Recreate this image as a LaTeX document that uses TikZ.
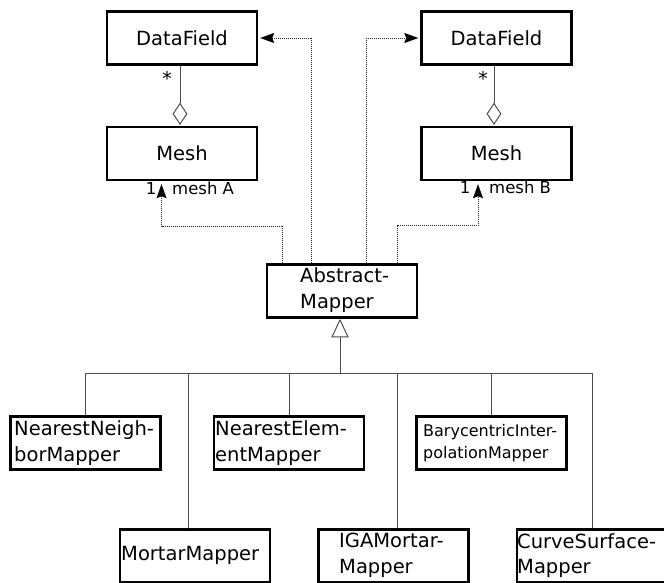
\documentclass[tikz,border=0pt]{standalone}
\usepackage{fontspec}
\setmainfont{DejaVu Sans}
\usetikzlibrary{arrows.meta,calc,shapes.geometric}

\begin{document}
\begin{tikzpicture}[x=1pt,y=-1pt,
  box/.style={draw=black,line width=2.4pt,fill=white,minimum width=150pt,
    minimum height=53pt,inner sep=0pt,font=\fontsize{19.5}{25.5}\selectfont},
  txt/.style={anchor=west,inner sep=0pt,align=left,
    font=\fontsize{19.5}{25.5}\selectfont},
  stxt/.style={anchor=west,inner sep=0pt,align=left,
    font=\fontsize{16}{22}\selectfont},
  rtxt/.style={anchor=west,inner sep=0pt,font=\fontsize{16.5}{18}\selectfont},
  link/.style={draw=black!70,line width=1pt},
  dep/.style={draw=black!85,line width=1pt,dash pattern=on 1pt off 1pt},
  tip/.style={-{Stealth[length=14pt,width=10pt,inset=2pt,color=black]}},
  agg/.style={diamond,draw=black!70,line width=1pt,fill=white,inner sep=0pt,
    minimum width=14pt,minimum height=21pt},
]
\useasboundingbox (0,0) rectangle (664,582);

% data fields and meshes of the two sides
\node[box] (dfA) at (182,38) {DataField};
\node[box] (meshA) at (182,153.5) {Mesh};
\node[box] (dfB) at (496.5,38) {DataField};
\node[box] (meshB) at (496.5,153.5) {Mesh};

% aggregation: a data field holds many meshes
\node[agg,anchor=south] (aggA) at ($(meshA.north)+(-2,-1)$) {};
\node[agg,anchor=south] (aggB) at ($(meshB.north)+(-2.5,-1)$) {};
\draw[link] (aggA.north) -- (aggA.north |- dfA.south);
\draw[link] (aggB.north) -- (aggB.north |- dfB.south);
\node[inner sep=0pt,font=\fontsize{19}{19}\selectfont] (starA) at (167,78) {*};
\node[inner sep=0pt,font=\fontsize{19}{19}\selectfont] (starB) at (483,78) {*};

% abstract base class
\node[box] (am) at (342,291) {};
\node[txt] (amt) at (300,290) {Abstract-\\Mapper};

% concrete mappers
\node[box] (nn) at (85.5,443) {};
\node[txt] (nnt) at (14,443) {NearestNeigh-\\borMapper};
\node[box] (ne) at (289,443) {};
\node[txt] (net) at (215,443) {NearestElem-\\entMapper};
\node[box] (bi) at (491.5,443) {};
\node[stxt] (bit) at (423,443) {BarycentricInter-\\polationMapper};
\node[box] (mm) at (195,556) {};
\node[txt] (mmt) at (121,555) {MortarMapper};
\node[box] (iga) at (393.5,556) {};
\node[txt] (igat) at (339,555.5) {IGAMortar-\\Mapper};
\node[box] (cs) at (592,556) {};
\node[txt] (cst) at (517,555.5) {CurveSurface-\\Mapper};

% dependencies of the abstract mapper
\draw[dep,tip] ($(am.north west)+(17,0)$) |- ($(meshA.south)+(-20.5,45)$)
  -- ($(meshA.south)+(-20.5,3)$);
\draw[dep,tip] ($(am.north west)+(46,0)$) |- ($(dfA.east)+(2,0)$);
\draw[dep,tip] ($(am.north west)+(101,0)$) |- ($(dfB.west)+(-2,0)$);
\draw[dep,tip] ($(am.north west)+(132,0)$) |- ($(meshB.south)+(-18.5,44)$)
  -- ($(meshB.south)+(-18.5,3)$);
\node[rtxt,anchor=center] (oneA) at (151,188) {1};
\node[rtxt] (roleA) at (172,188) {mesh A};
\node[rtxt,anchor=center] (oneB) at (465,187) {1};
\node[rtxt] (roleB) at (489,187) {mesh B};

% generalization tree
\coordinate (apex) at ($(am.south)+(-2,1.2)$);
\draw[link,fill=white] (apex) -- ++(8,17) -- ++(-16,0) -- cycle;
\coordinate (bus) at (340,373);
\draw[link] ($(apex)+(0,17)$) -- (bus);
\coordinate (mmtop) at ($(mm.north)+(-7,0)$);
\coordinate (igatop) at ($(iga.north)+(3.5,0)$);
\draw[link] (nn.north |- bus) -- (cs.north |- bus);
\draw[link] (nn.north) -- (nn.north |- bus);
\draw[link] (ne.north) -- (ne.north |- bus);
\draw[link] (bi.north) -- (bi.north |- bus);
\draw[link] (mmtop) -- (mmtop |- bus);
\draw[link] (igatop) -- (igatop |- bus);
\draw[link] (cs.north) -- (cs.north |- bus);
\end{tikzpicture}
\end{document}
